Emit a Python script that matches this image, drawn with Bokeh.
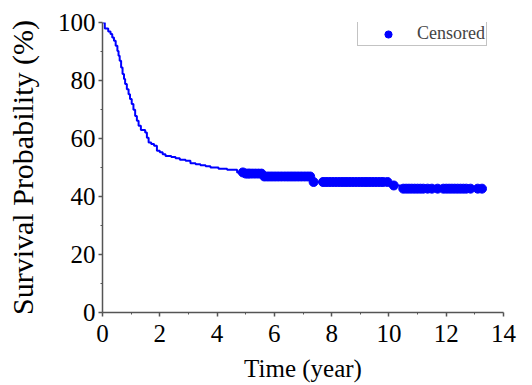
import numpy as np
from bokeh.plotting import figure
from bokeh.models import Range1d, FixedTicker, Legend, LegendItem
from bokeh.embed import file_html
from bokeh.resources import INLINE

# Kaplan-Meier curve (step points)
km_time = [0.0, 0.08, 0.2, 0.28, 0.34, 0.4, 0.46, 0.52, 0.56, 0.6, 0.65, 0.7, 0.75, 0.79,
           0.85, 0.91, 0.96, 1.02, 1.08, 1.14, 1.2, 1.26, 1.34, 1.49, 1.55, 1.61, 1.7, 1.8,
           1.9, 2.0, 2.1, 2.2, 2.4, 2.55, 2.7, 2.9, 3.07, 3.25, 3.42, 3.6, 3.77, 4.05, 4.35,
           4.7, 5.0, 5.6, 7.35, 10.1, 10.4, 13.3]
km_surv = [100, 97.9, 96.9, 96.0, 94.8, 93.7, 92.0, 90.2, 88.5, 86.8, 84.5, 82.2, 80.5, 78.8,
           77.0, 75.3, 73.6, 71.9, 69.9, 67.8, 66.1, 64.4, 62.9, 62.1, 60.3, 58.6, 58.1, 57.5,
           55.8, 55.3, 54.6, 54.0, 53.6, 53.2, 52.7, 52.3, 51.5, 51.1, 50.8, 50.4, 50.0, 49.6, 49.2,
           48.3, 47.9, 46.9, 45.0, 43.8, 42.7, 42.7]

# Censored observation times
censor_time = [4.90, 5.00, 5.08, 5.15, 5.25, 5.35, 5.45, 5.55, 5.65, 5.75, 5.85, 5.95, 6.05,
               6.15, 6.25, 6.35, 6.45, 6.55, 6.65, 6.75, 6.85, 6.95, 7.05, 7.15, 7.25, 7.37,
               7.70, 7.80, 7.90, 8.00, 8.10, 8.20, 8.30, 8.40, 8.50, 8.60, 8.70, 8.80, 8.90,
               9.00, 9.10, 9.20, 9.30, 9.40, 9.50, 9.60, 9.70, 9.80, 9.95, 10.17, 10.50, 10.60,
               10.70, 10.80, 10.90, 11.00, 11.10, 11.20, 11.35, 11.50, 11.70, 11.90, 12.00,
               12.10, 12.20, 12.30, 12.40, 12.50, 12.60, 12.70, 12.85, 13.10, 13.25]

x_ticks = [0, 2, 4, 6, 8, 10, 12, 14]
y_ticks = [0, 20, 40, 60, 80, 100]

# survival value of the step function at each censored time
kt = np.array(km_time)
ks = np.array(km_surv)
idx = np.searchsorted(kt, np.array(censor_time), side="right") - 1
censor_surv = ks[idx]

FONT = "Liberation Serif"
BLUE = "#0000FF"
AXC = "#555555"

p = figure(width=532, height=385, output_backend="svg", toolbar_location=None,
           x_range=Range1d(0, 14), y_range=Range1d(0, 100),
           min_border_left=102, min_border_right=29, min_border_top=22, min_border_bottom=73)
p.outline_line_color = None
p.grid.visible = False
p.background_fill_color = "white"

p.step(km_time, km_surv, mode="after", line_color=BLUE, line_width=2)
r_c = p.scatter(censor_time, list(censor_surv), size=9, fill_color=BLUE, line_color=BLUE)

for ax, ticks in ((p.xaxis[0], x_ticks), (p.yaxis[0], y_ticks)):
    ax.ticker = FixedTicker(ticks=ticks, minor_ticks=[t + (ticks[1] - ticks[0]) / 2 for t in ticks[:-1]])
    ax.axis_line_color = AXC
    ax.axis_line_width = 1.5
    ax.major_tick_line_color = AXC
    ax.minor_tick_line_color = AXC
    ax.major_tick_line_width = 1.5
    ax.major_tick_out = 4
    ax.major_tick_in = 0
    ax.minor_tick_out = 2
    ax.minor_tick_in = 0
    ax.major_label_text_font = FONT
    ax.major_label_text_font_size = "25px"
    ax.major_label_text_color = "black"
    ax.axis_label_text_font = FONT
    ax.axis_label_text_font_style = "normal"
    ax.axis_label_text_color = "black"

p.xaxis.axis_label = "Time (year)"
p.xaxis.axis_label_text_font_size = "25px"
p.xaxis.major_label_standoff = 8
p.xaxis.axis_label_standoff = 10
p.yaxis.axis_label = "Survival Probability (%)"
p.yaxis.axis_label_text_font_size = "30px"
p.yaxis.major_label_standoff = 3
p.yaxis.axis_label_standoff = 16

legend = Legend(items=[LegendItem(label="Censored", renderers=[r_c])],
                location=(255, 266), orientation="vertical",
                label_text_font=FONT, label_text_font_size="18px",
                padding=1, margin=0, spacing=0, glyph_width=58, glyph_height=18,
                label_height=18, label_standoff=0,
                border_line_color="#888888", border_line_width=1,
                background_fill_alpha=1.0)
p.add_layout(legend, "center")

open("out.html", "w").write(file_html(p, INLINE))
